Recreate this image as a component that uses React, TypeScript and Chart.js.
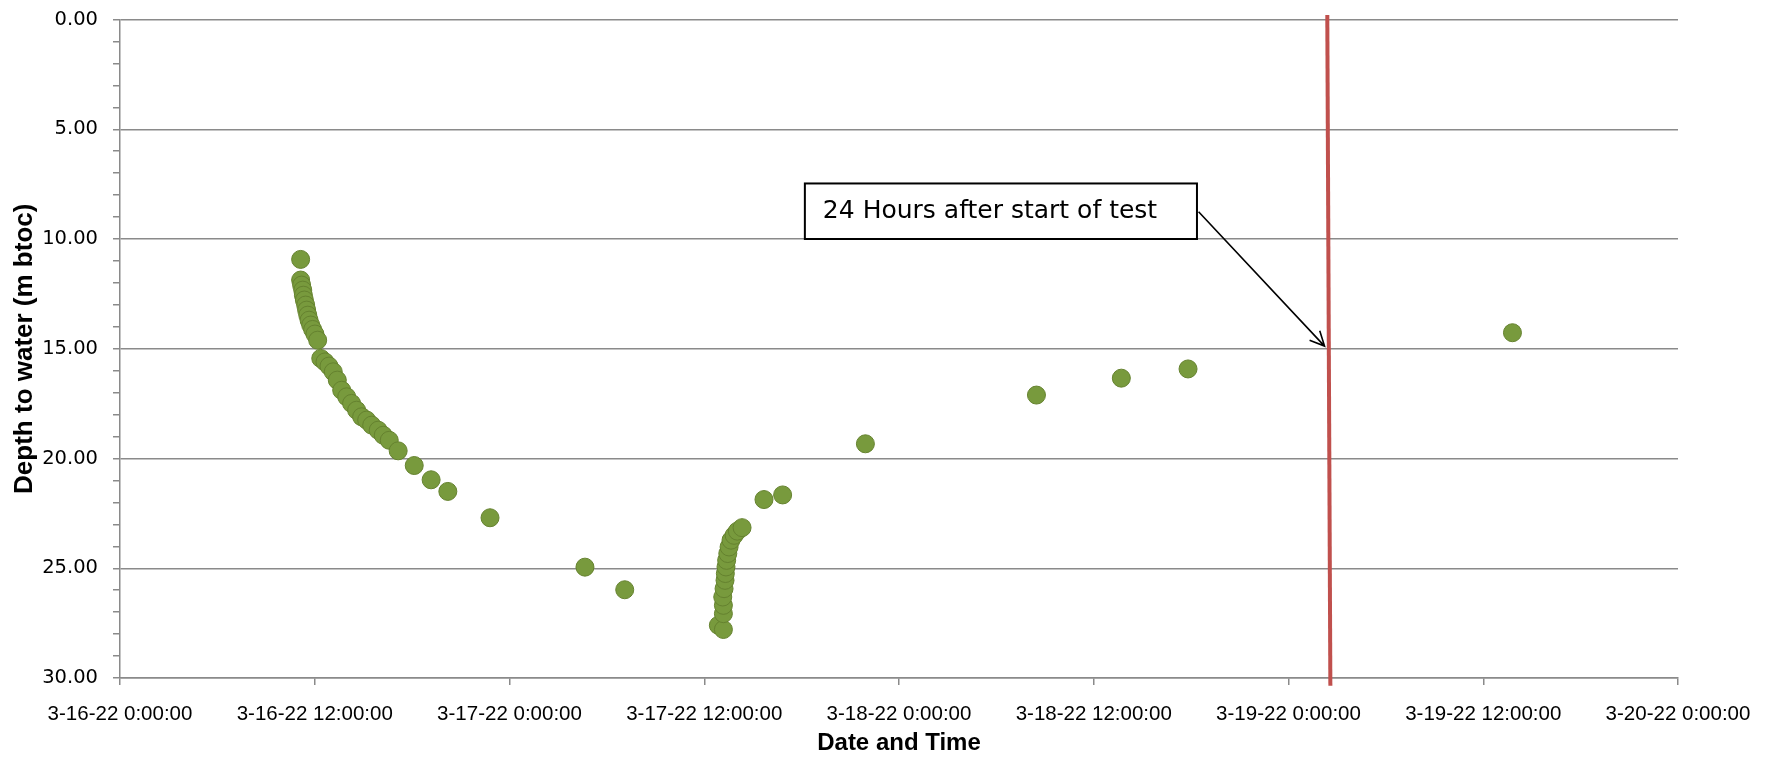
import { useEffect, useRef } from 'react';
import Chart from 'chart.js/auto';

// Hours after 3-16-22 0:00:00
const sampleHours = [
  11.13, 11.13, 11.19, 11.26, 11.30, 11.36, 11.44, 11.50, 11.57, 11.65,
  11.75, 11.87, 12.01, 12.18, 12.37, 12.63, 12.88, 13.14, 13.39, 13.66,
  13.97, 14.27, 14.58, 14.89, 15.20, 15.51, 15.91, 16.22, 16.59, 17.14,
  18.13, 19.17, 20.2, 22.8, 28.65, 31.1,
  36.87, 37.18, 37.18, 37.18, 37.14, 37.22, 37.28, 37.30, 37.34, 37.38,
  37.45, 37.53, 37.65, 37.84, 38.04, 38.33, 39.68, 40.83,
  45.93, 56.47, 61.70, 65.81, 85.8,
];
// Depth to water (m btoc)
const depthToWater = [
  10.93, 11.87, 12.10, 12.33, 12.56, 12.78, 13.01, 13.24, 13.47, 13.70,
  13.92, 14.12, 14.33, 14.61, 15.44, 15.60, 15.79, 16.05, 16.43, 16.89,
  17.19, 17.49, 17.80, 18.10, 18.25, 18.48, 18.71, 18.94, 19.17, 19.65,
  20.32, 20.97, 21.5, 22.7, 24.95, 25.98,
  27.6, 27.79, 27.07, 26.69, 26.31, 25.93, 25.55, 25.24, 24.94, 24.64,
  24.33, 24.03, 23.72, 23.50, 23.31, 23.15, 21.87, 21.66,
  19.33, 17.11, 16.34, 15.92, 14.27,
];

const xTickLabels = [
  '3-16-22 0:00:00', '3-16-22 12:00:00', '3-17-22 0:00:00', '3-17-22 12:00:00',
  '3-18-22 0:00:00', '3-18-22 12:00:00', '3-19-22 0:00:00', '3-19-22 12:00:00',
  '3-20-22 0:00:00',
];
const yTickLabels = ['0.00', '5.00', '10.00', '15.00', '20.00', '25.00', '30.00'];

// Red marker line: "24 hours after start of test"
const markerHours = [74.39, 74.58];
const markerDepth = [-0.2, 30.35];

const annotationText = '24 Hours after start of test';

const GRID = '#8a8a8a';

export default function App() {
  const ref = useRef<HTMLCanvasElement | null>(null);

  useEffect(() => {
    document.body.style.margin = '0';
    const canvas = ref.current;
    if (!canvas) return;

    const annotationPlugin = {
      id: 'annot',
      afterDatasetsDraw(chart: any) {
        const { ctx } = chart;
        const xs = chart.scales.x;
        const ys = chart.scales.y;
        const bx1 = xs.getPixelForValue(42.2);
        const bx2 = xs.getPixelForValue(66.36);
        const by1 = ys.getPixelForValue(7.47);
        const by2 = ys.getPixelForValue(10.0);
        ctx.save();
        ctx.fillStyle = '#ffffff';
        ctx.fillRect(bx1, by1, bx2 - bx1, by2 - by1);
        ctx.strokeStyle = '#000';
        ctx.lineWidth = 2;
        ctx.strokeRect(bx1, by1, bx2 - bx1, by2 - by1);
        ctx.fillStyle = '#000';
        ctx.font = '25px "DejaVu Sans"';
        ctx.textBaseline = 'alphabetic';
        ctx.textAlign = 'left';
        ctx.fillText(annotationText, bx1 + 18, by1 + 35);
        // arrow
        const ax1 = xs.getPixelForValue(66.46);
        const ay1 = ys.getPixelForValue(8.76);
        const ax2 = xs.getPixelForValue(74.22);
        const ay2 = ys.getPixelForValue(14.88);
        ctx.lineWidth = 1.6;
        ctx.beginPath();
        ctx.moveTo(ax1, ay1);
        ctx.lineTo(ax2, ay2);
        const ang = Math.atan2(ay2 - ay1, ax2 - ax1);
        const len = 16;
        const spread = 0.45;
        ctx.moveTo(ax2 - len * Math.cos(ang - spread), ay2 - len * Math.sin(ang - spread));
        ctx.lineTo(ax2, ay2);
        ctx.lineTo(ax2 - len * Math.cos(ang + spread), ay2 - len * Math.sin(ang + spread));
        ctx.stroke();
        ctx.restore();
      },
    };

    const chart = new Chart(canvas, {
      type: 'scatter',
      data: {
        datasets: [
          {
            label: 'Depth',
            data: sampleHours.map((h, i) => ({ x: h, y: depthToWater[i] })),
            backgroundColor: '#789a3d',
            borderColor: '#65822f',
            borderWidth: 1,
            pointRadius: 9,
            pointHoverRadius: 9,
          },
          {
            type: 'line',
            label: 'Marker',
            data: markerHours.map((h, i) => ({ x: h, y: markerDepth[i] })),
            borderColor: '#c0504d',
            borderWidth: 4,
            pointRadius: 0,
            showLine: true,
            clip: false,
          } as any,
        ],
      },
      options: {
        responsive: false,
        animation: false,
        layout: { padding: { top: 19.5, right: 96, left: 0, bottom: 0 } },
        plugins: {
          legend: { display: false },
          tooltip: { enabled: false },
        },
        scales: {
          x: {
            type: 'linear',
            min: 0,
            max: 96,
            afterFit: (s: any) => {
              s.height = 80;
              s.paddingLeft = 0;
              s.paddingRight = 0;
            },
            ticks: {
              stepSize: 12,
              autoSkip: false,
              maxRotation: 0,
              padding: 17,
              color: '#000',
              font: { family: 'Liberation Sans', size: 20.5 },
              callback: (_v: any, i: number) => xTickLabels[i],
            },
            grid: {
              drawOnChartArea: false,
              tickLength: 7,
              color: GRID,
              lineWidth: 1.5,
            },
            border: { color: GRID, width: 1.5 },
            title: {
              display: true,
              text: 'Date and Time',
              color: '#000',
              font: { family: 'Liberation Sans', size: 24, weight: 'bold' },
              padding: { top: 0, bottom: 0 },
            },
          },
          y: {
            type: 'linear',
            reverse: true,
            min: 0,
            max: 30,
            afterFit: (s: any) => {
              s.width = 120;
              s.paddingTop = 0;
              s.paddingBottom = 0;
            },
            ticks: {
              stepSize: 1,
              autoSkip: false,
              padding: 15,
              color: '#000',
              font: { family: 'DejaVu Sans', size: 19.5 },
              callback: (v: any) => (Number(v) % 5 === 0 ? yTickLabels[Number(v) / 5] : ''),
            },
            grid: {
              color: (c: any) => (c.tick && c.tick.value % 5 === 0 ? GRID : 'rgba(0,0,0,0)'),
              tickColor: GRID,
              tickLength: 7,
              lineWidth: 1.5,
            },
            border: { color: GRID, width: 1.5 },
            title: {
              display: true,
              text: 'Depth to water (m btoc)',
              color: '#000',
              font: { family: 'Liberation Sans', size: 26, weight: 'bold' },
              padding: { top: 9, bottom: 0 },
            },
          },
        },
      },
      plugins: [annotationPlugin],
    });
    return () => chart.destroy();
  }, []);

  return (
    <div style={{ width: 1774, height: 758 }}>
      <canvas ref={ref} width={1774} height={758} style={{ width: 1774, height: 758, display: 'block' }} />
    </div>
  );
}
